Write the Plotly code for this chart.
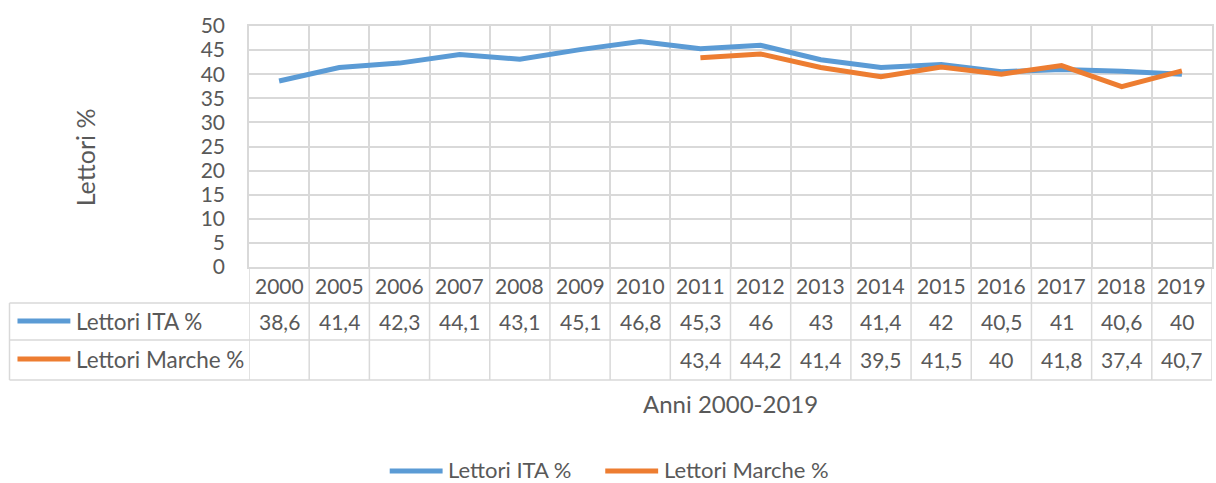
import plotly.graph_objects as go

years = ["2000", "2005", "2006", "2007", "2008", "2009", "2010", "2011",
         "2012", "2013", "2014", "2015", "2016", "2017", "2018", "2019"]
ita = [38.6, 41.4, 42.3, 44.1, 43.1, 45.1, 46.8, 45.3, 46, 43, 41.4, 42, 40.5, 41, 40.6, 40]
marche = [None, None, None, None, None, None, None, 43.4, 44.2, 41.4, 39.5, 41.5, 40, 41.8, 37.4, 40.7]
series_names = ["Lettori ITA %", "Lettori Marche %"]
colors = ["#5B9BD5", "#ED7D31"]

FONT = "Lato"
TXT = "#595959"
GRID = "#D9D9D9"
FS = 21
FS_LBL = 22.5

W, H = 1216, 483
ML, MR, MT, MB = 249, 2, 26, 216
PW = W - ML - MR
PH = H - MT - MB
LW = 5


def py(pix):
    """pixel row (from top) -> paper y"""
    return (H - MB - pix) / PH


def px(pix):
    return (pix - ML) / PW


def txt(x, y, s, xref="paper", xanchor="center", size=FS, angle=0):
    return dict(x=x, y=y, xref=xref, yref="paper", text=s, showarrow=False,
                xanchor=xanchor, yanchor="middle", textangle=angle,
                font=dict(family=FONT, size=size, color=TXT))


idx = list(range(len(years)))
fig = go.Figure()
for name, vals, col in zip(series_names, [ita, marche], colors):
    fig.add_trace(go.Scatter(x=idx, y=vals, mode="lines", name=name,
                             line=dict(color=col, width=LW), connectgaps=False,
                             showlegend=False))

shapes = []
annotations = []
rows_pix = [267, 303, 340, 380]
for b in range(len(years) + 1):
    shapes.append(dict(type="line", xref="x", yref="paper", x0=b - 0.5, x1=b - 0.5,
                       y0=0, y1=py(rows_pix[-1]), line=dict(color=GRID, width=1.5)))
for r in rows_pix[1:]:
    shapes.append(dict(type="line", xref="paper", yref="paper", x0=px(9), x1=1,
                       y0=py(r), y1=py(r), line=dict(color=GRID, width=1.5)))
shapes.append(dict(type="line", xref="paper", yref="paper", x0=px(9), x1=px(9),
                   y0=py(303), y1=py(380), line=dict(color=GRID, width=1.5)))

for i, yv in enumerate(years):
    annotations.append(txt(i, py(285), yv, xref="x"))

row_centers = [321, 359]
for name, vals, col, rc in zip(series_names, [ita, marche], colors, row_centers):
    shapes.append(dict(type="line", xref="paper", yref="paper", x0=px(17), x1=px(70),
                       y0=py(rc), y1=py(rc), line=dict(color=col, width=LW)))
    annotations.append(txt(px(74), py(rc), name, xanchor="left", size=FS_LBL))
    for i, v in enumerate(vals):
        if v is None:
            continue
        annotations.append(txt(i, py(rc), f"{v:g}".replace(".", ","), xref="x"))

annotations.append(txt(0.5, py(403), "Anni 2000-2019", size=24))
annotations.append(txt(px(85), py(157), "Lettori %", size=25, angle=-90))

leg = [(390, 443, 446), (606, 659, 663)]
for (a, b, t), name, col in zip(leg, series_names, colors):
    shapes.append(dict(type="line", xref="paper", yref="paper", x0=px(a), x1=px(b),
                       y0=py(471), y1=py(471), line=dict(color=col, width=LW)))
    annotations.append(txt(px(t), py(469), name, xanchor="left", size=22))

fig.update_layout(
    width=W, height=H,
    margin=dict(l=ML, r=MR, t=MT, b=MB),
    paper_bgcolor="white", plot_bgcolor="white",
    showlegend=False,
    shapes=shapes, annotations=annotations,
    xaxis=dict(range=[-0.5, len(years) - 0.5], tick0=-0.5, dtick=1, showticklabels=False,
               showgrid=True, gridcolor=GRID, gridwidth=1.5, zeroline=False,
               showline=True, mirror=True, linecolor=GRID, linewidth=1.5, fixedrange=True),
    yaxis=dict(range=[0, 50], dtick=5, showgrid=True, gridcolor=GRID, gridwidth=1.5,
               zeroline=False, showline=True, mirror=True, linecolor=GRID, linewidth=1.5,
               tickfont=dict(family=FONT, size=FS, color=TXT), ticklabelstandoff=18,
               fixedrange=True),
)

fig.write_html("out.html", config={"displayModeBar": False},
               post_script="document.body.style.margin='0';")
